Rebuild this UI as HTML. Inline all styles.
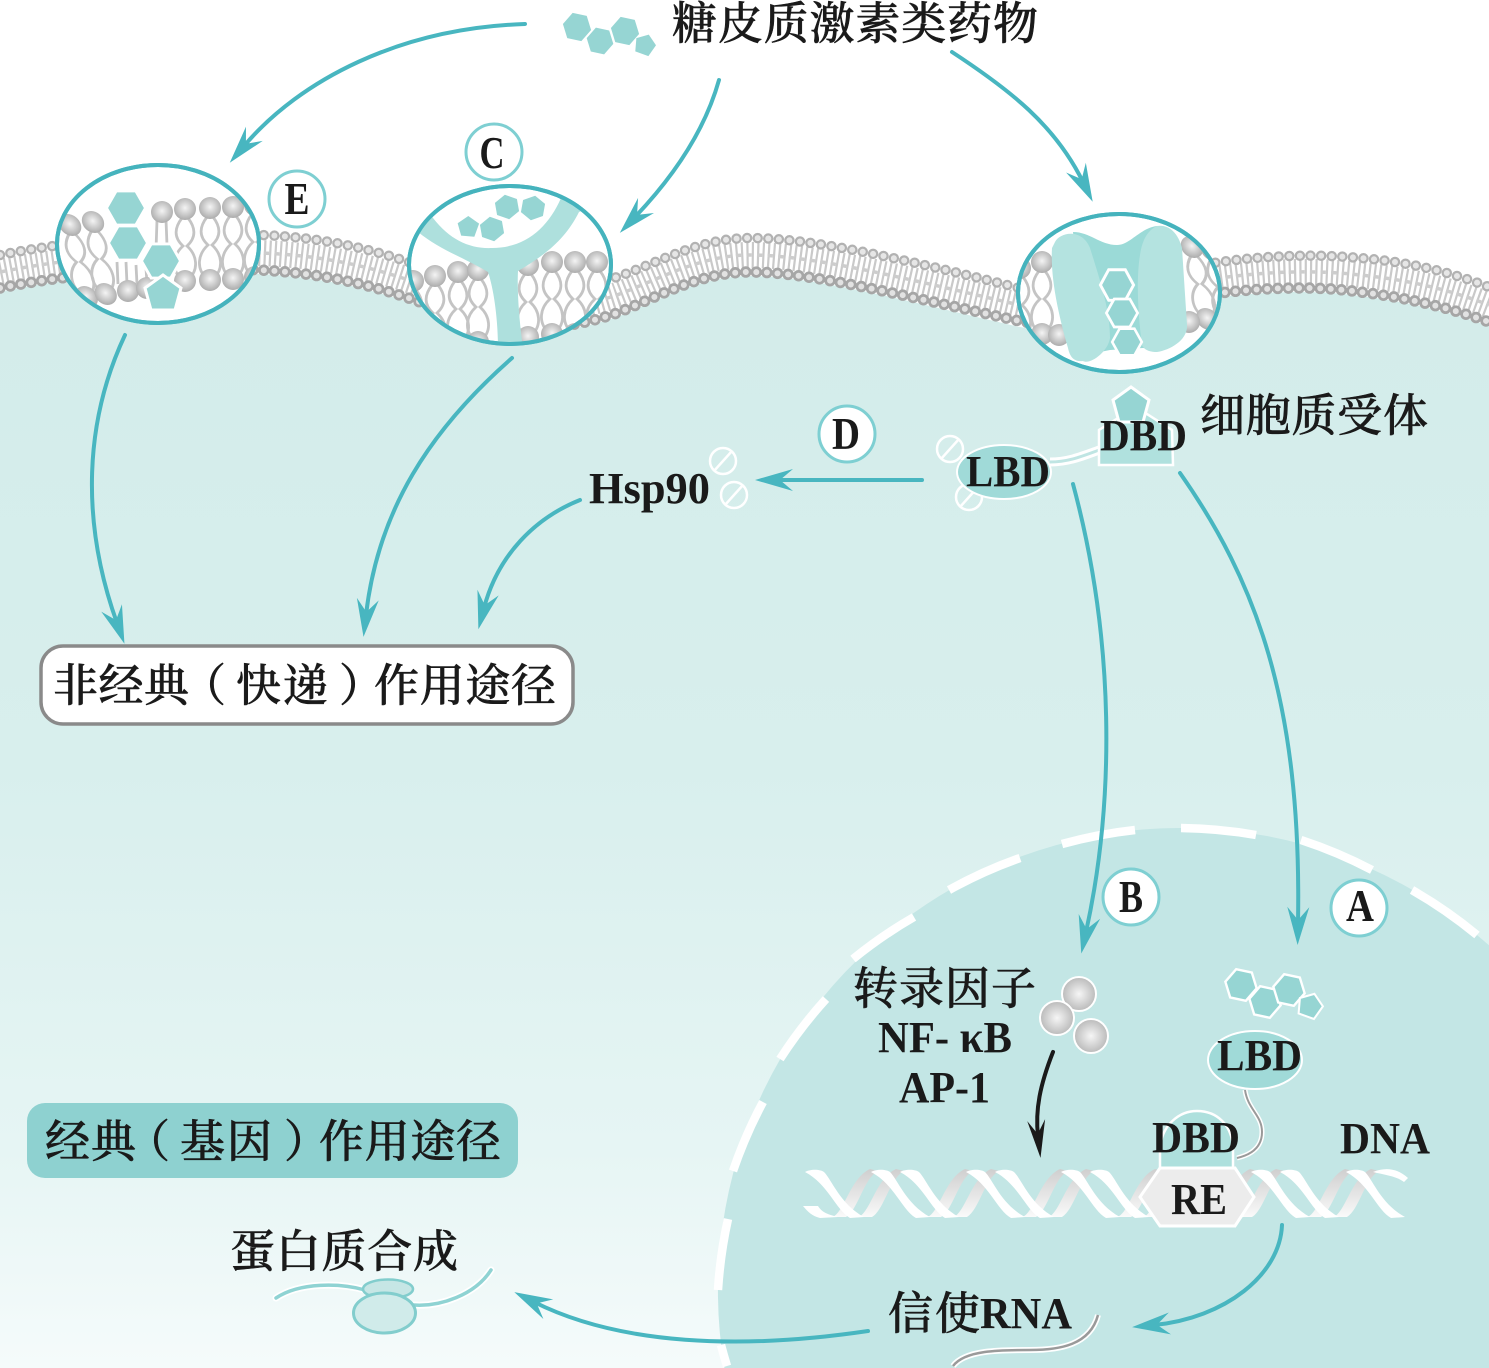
<!DOCTYPE html>
<html lang="zh"><head><meta charset="utf-8"><title>糖皮质激素类药物作用途径</title>
<style>
html,body{margin:0;padding:0;background:#fff;width:1489px;height:1368px;overflow:hidden}
svg{display:block}
.c{font-family:"Liberation Serif","Noto Serif CJK SC",serif;font-weight:500;fill:#1a1a1a;stroke:#1a1a1a;stroke-width:.55}
.l{font-family:"Liberation Serif","Noto Serif CJK SC",serif;font-weight:700;fill:#1a1a1a}
.a{fill:none;stroke:#48b6c0;stroke-width:4;stroke-linecap:round}
.big{fill:#fff;stroke:#45b3bd;stroke-width:4}
.lab{fill:#fff;stroke:#7ecfd2;stroke-width:3}
.t{fill:none;stroke:#c4c4c4;stroke-width:2.8}
</style></head><body>
<svg width="1489" height="1368" viewBox="0 0 1489 1368" xmlns="http://www.w3.org/2000/svg">
<defs>
<linearGradient id="cell" x1="0" y1="0" x2="0" y2="1"><stop offset="0" stop-color="#d3ecea"/><stop offset=".45" stop-color="#d8efed"/><stop offset=".8" stop-color="#e6f5f4"/><stop offset="1" stop-color="#f5fbfb"/></linearGradient>
<linearGradient id="bk" x1="0" y1="0" x2="0" y2="1"><stop offset="0" stop-color="#cfcfcf"/><stop offset=".55" stop-color="#e6e6e6"/><stop offset="1" stop-color="#fafafa"/></linearGradient>
<radialGradient id="ball" cx=".5" cy=".45" r=".6"><stop offset="0" stop-color="#f4f4f4"/><stop offset="1" stop-color="#a5a5a5"/></radialGradient>
<radialGradient id="ball2" cx=".5" cy=".5" r=".55"><stop offset="0" stop-color="#f6f6f6"/><stop offset="1" stop-color="#b4b4b4"/></radialGradient>
<marker id="ah" markerUnits="userSpaceOnUse" markerWidth="48" markerHeight="30" refX="16" refY="15" orient="auto" overflow="visible"><polygon points="0,4 38,15 0,26 13,15" fill="#48b6c0"/></marker>
<marker id="bh" markerUnits="userSpaceOnUse" markerWidth="48" markerHeight="30" refX="16" refY="15" orient="auto" overflow="visible"><polygon points="0,6 38,15 0,24 14,15" fill="#1a1a1a"/></marker>
<polygon id="hex" points="-20,0 -10,-18 10,-18 20,0 10,18 -10,18"/>
<polygon id="pent" points="0,-19 18,-6 12,16 -12,16 -18,-6"/>
<g id="lip"><path class="t" d="M-3,9 C-10,18 -12,28 -2,37 C-12,46 -14,60 -4,70 M3,9 C10,18 12,28 2,37 C12,46 14,60 4,70"/><circle r="11" fill="url(#ball)"/><circle cy="72" r="11" fill="url(#ball)"/></g>
<clipPath id="ce"><ellipse cx="158" cy="244" rx="100" ry="78"/></clipPath>
<clipPath id="cc"><ellipse cx="510" cy="265" rx="100" ry="78"/></clipPath>
<clipPath id="cr"><ellipse cx="1119" cy="293" rx="100" ry="78"/></clipPath>
<clipPath id="dna"><rect x="803" y="1150" width="605" height="90"/></clipPath>
<g id="back"><path d="M-48,47 C-36,44 -30,8 -10,-1 L-2,1 C-16,8 -22,40 -34,47 Z" fill="url(#bk)"/><path d="M-22,47 C-10,44 -4,8 16,-1 L24,1 C10,8 4,40 -8,47 Z" fill="url(#bk)"/></g>
<path id="f" d="M-9,2 C-4,-1 6,-1 10,2 C18,10 26,34 50,47 L36,48 C22,40 14,14 -9,2 Z" fill="#fff"/>
</defs>

<rect width="1489" height="1368" fill="#fff"/>
<path d="M0,292 C60,279 150,268 260,274 C320,277 370,288 420,306 C480,329 540,344 617,317 C660,300 700,276 750,276 C810,276 900,299 1015,326 C1090,341 1150,306 1220,297 C1270,291 1320,290 1360,296 C1410,302 1450,312 1489,326 L1489,1368 L0,1368 Z" fill="url(#cell)"/>

<!-- membrane -->
<g fill="none">
<path d="M0,272 C60,260 150,249 260,253 C320,255 370,266 420,284 C480,307 540,321 617,295 C660,279 700,255 750,255 C810,255 900,277 1015,304 C1090,322 1150,287 1220,278 C1270,271 1320,270 1360,275 C1410,280 1450,290 1489,305" stroke="#c9c9c9" stroke-width="26" stroke-dasharray="2.2 3.1"/>
<path d="M0,272 C60,260 150,249 260,253 C320,255 370,266 420,284 C480,307 540,321 617,295 C660,279 700,255 750,255 C810,255 900,277 1015,304 C1090,322 1150,287 1220,278 C1270,271 1320,270 1360,275 C1410,280 1450,290 1489,305" stroke="#cdcdcd" stroke-width="3.5" stroke-dasharray="5.3 5.3"/>
<g stroke-linecap="round" stroke-dasharray="0 10.6">
<path d="M0,255 C60,243 150,232 260,235 C320,237 370,248 420,266 C480,288 540,302 617,277 C660,262 700,238 750,238 C810,238 900,258 1015,287 C1090,306 1150,272 1220,262 C1270,255 1320,254 1360,258 C1410,262 1450,272 1489,287" stroke="#b2b2b2" stroke-width="10.5"/>
<path d="M0,255 C60,243 150,232 260,235 C320,237 370,248 420,266 C480,288 540,302 617,277 C660,262 700,238 750,238 C810,238 900,258 1015,287 C1090,306 1150,272 1220,262 C1270,255 1320,254 1360,258 C1410,262 1450,272 1489,287" stroke="#e6e6e6" stroke-width="6"/>
<path d="M0,288 C60,276 150,265 260,270 C320,273 370,284 420,302 C480,325 540,340 617,313 C660,296 700,272 750,272 C810,272 900,295 1015,320 C1090,337 1150,302 1220,293 C1270,287 1320,286 1360,292 C1410,298 1450,308 1489,322" stroke="#a6a6a6" stroke-width="11.500"/>
<path d="M0,288 C60,276 150,265 260,270 C320,273 370,284 420,302 C480,325 540,340 617,313 C660,296 700,272 750,272 C810,272 900,295 1015,320 C1090,337 1150,302 1220,293 C1270,287 1320,286 1360,292 C1410,298 1450,308 1489,322" stroke="#e2e2e2" stroke-width="6"/>
</g></g>

<!-- nucleus -->
<path d="M724.4,1368 A463,463 0 0 1 1489,945.3 L1489,1368 Z" fill="#c3e6e5"/>
<g fill="none" stroke="#fff" stroke-width="8.5">
<path d="M727,1366 A463,463 0 0 1 721,1345"/>
<path d="M718,1290 A463,463 0 0 1 728,1219"/>
<path d="M733,1171 A463,463 0 0 1 763,1102"/>
<path d="M780,1059 A463,463 0 0 1 826,999"/>
<path d="M853,959 A463,463 0 0 1 914,917"/>
<path d="M949,890 A463,463 0 0 1 1020,858"/>
<path d="M1062,844 A463,463 0 0 1 1135,830"/>
<path d="M1181,828 A463,463 0 0 1 1256,835"/>
<path d="M1301,840 A463,463 0 0 1 1372,870"/>
<path d="M1412,890 A463,463 0 0 1 1477,935"/>
</g>

<!-- E circle -->
<ellipse class="big" cx="158" cy="244" rx="101" ry="79"/>
<g clip-path="url(#ce)">
<use href="#lip" transform="translate(70 225) skewX(13)"/><use href="#lip" transform="translate(93 222) skewX(10)"/><use href="#lip" x="185" y="209"/><use href="#lip" x="210" y="208"/><use href="#lip" x="233" y="207"/>
<use href="#lip" x="255" y="205"/>
<path class="t" d="M157,220 L156,250 M166,220 L167,245 M117,262 L118,284 M126,262 L127,284 M136,265 L137,284 M146,268 L147,284"/>
<circle cx="162" cy="212" r="11" fill="url(#ball)"/>
<circle cx="128" cy="291" r="11" fill="url(#ball)"/><circle cx="147" cy="288" r="11" fill="url(#ball)"/>
<g fill="#96d5d3" stroke="#fff" stroke-width="3"><use href="#hex" transform="translate(126 208) scale(.98 .95)"/><use href="#hex" transform="translate(128 243) scale(.98 .95)"/><use href="#hex" transform="translate(161 261) scale(.98 .95)"/><use href="#pent" transform="translate(163 294)"/></g>
</g>
<ellipse cx="158" cy="244" rx="101" ry="79" fill="none" stroke="#45b3bd" stroke-width="4"/>

<!-- C circle -->
<ellipse class="big" cx="510" cy="265" rx="101" ry="79"/>
<g clip-path="url(#cc)">
<use href="#lip" x="413" y="281"/><use href="#lip" x="435" y="276"/><use href="#lip" x="458" y="272"/><use href="#lip" x="478" y="270"/><use href="#lip" x="528" y="265"/><use href="#lip" x="552" y="262"/><use href="#lip" x="575" y="262"/><use href="#lip" x="597" y="262"/>
<path d="M425,205 L433,218 C450,240 470,249 492,248 C525,248 548,228 561,198 L575,185 L595,205 L579,212 C565,240 545,255 518,271 C517,290 519,320 523,348 L498,348 C498,320 494,290 488,272 C465,258 440,250 418,232 L405,225 Z" fill="#aee0dd"/>
<g fill="#96d5d3"><use href="#pent" transform="translate(468 227) rotate(-70) scale(.58)"/><use href="#hex" transform="translate(492 229) rotate(80) scale(.62)"/><use href="#hex" transform="translate(507 207) rotate(80) scale(.62)"/><use href="#hex" transform="translate(533 208) rotate(100) scale(.62)"/></g>
</g>
<ellipse cx="510" cy="265" rx="101" ry="79" fill="none" stroke="#45b3bd" stroke-width="4"/>

<!-- channel circle -->
<ellipse class="big" cx="1119" cy="293" rx="101" ry="79"/>
<g clip-path="url(#cr)">
<use href="#lip" x="1020" y="268"/><use href="#lip" x="1042" y="262"/>
<circle cx="1059" cy="335" r="11" fill="url(#ball)"/>
<use href="#lip" transform="translate(1192 247) skewX(12)"/>
<circle cx="1189" cy="322" r="11" fill="url(#ball)"/>
<use href="#lip" transform="translate(1212 250) skewX(12)"/>
<path d="M1073,232 C1090,232 1100,245 1117,245 C1130,245 1140,228 1157,226 L1165,350 L1143,348 L1110,350 L1085,355 Z" fill="#9bdad7"/>
<path d="M1055,242 C1060,232 1082,228 1090,248 C1100,280 1110,310 1110,338 C1108,352 1090,365 1083,361 C1075,362 1070,358 1068,348 C1060,320 1050,280 1052,248 Z" fill="#b4e3e0"/>
<path d="M1157,226 C1168,224 1178,232 1182,248 L1187,325 C1188,340 1170,350 1157,352 C1150,352 1144,350 1142,345 C1138,315 1136,280 1140,255 C1142,240 1148,230 1157,226 Z" fill="#b4e3e0"/>
<g fill="#96d5d3" stroke="#fff" stroke-width="3.5"><use href="#hex" transform="translate(1117 285) scale(.83 .85)"/><use href="#hex" transform="translate(1122 313) scale(.78)"/><use href="#hex" transform="translate(1127 342) scale(.74)"/></g>
</g>
<ellipse cx="1119" cy="293" rx="101" ry="79" fill="none" stroke="#45b3bd" stroke-width="4"/>

<!-- top hexagons -->
<g fill="#96d5d3"><use href="#hex" transform="translate(577 27) rotate(12) scale(.72)"/><use href="#hex" transform="translate(600 41) rotate(12) scale(.68)"/><use href="#hex" transform="translate(625 31) rotate(12) scale(.72)"/><use href="#pent" transform="translate(645 45) rotate(20) scale(.58)"/></g>

<!-- arrows -->
<path class="a" marker-end="url(#ah)" d="M525,24 C400,28 300,80 244,146"/>
<path class="a" marker-end="url(#ah)" d="M719,80 C705,130 675,175 635,217"/>
<path class="a" marker-end="url(#ah)" d="M952,52 C1010,90 1055,125 1083,182"/>
<path class="a" marker-end="url(#ah)" d="M125,335 C85,420 80,520 117,623"/>
<path class="a" marker-end="url(#ah)" d="M512,358 C430,430 378,510 366,615"/>
<path class="a" marker-end="url(#ah)" d="M922,480 L777,480"/>
<path class="a" marker-end="url(#ah)" d="M580,500 C535,518 498,555 484,608"/>
<path class="a" marker-end="url(#ah)" d="M1073,484 C1115,640 1115,800 1086,932"/>
<path class="a" marker-end="url(#ah)" d="M1180,473 C1255,580 1302,700 1298,923"/>
<path fill="none" stroke="#1a1a1a" stroke-width="4" stroke-linecap="round" marker-end="url(#bh)" d="M1053,1052 C1040,1085 1035,1110 1038,1136"/>
<path class="a" marker-end="url(#ah)" d="M1282,1225 C1280,1275 1225,1318 1154,1325"/>
<path class="a" marker-end="url(#ah)" d="M868,1331 C740,1350 620,1345 534,1302"/>

<!-- label circles -->
<circle class="lab" cx="297" cy="199" r="28"/><circle class="lab" cx="494" cy="152" r="28"/><circle class="lab" cx="847" cy="434" r="28"/><circle class="lab" cx="1131" cy="897" r="28"/><circle class="lab" cx="1359" cy="908" r="28"/>
<g class="l" font-size="46" text-anchor="middle"><text x="297" y="214" textLength="25" lengthAdjust="spacingAndGlyphs">E</text><text x="492" y="168" textLength="25" lengthAdjust="spacingAndGlyphs">C</text><text x="846" y="449" textLength="28" lengthAdjust="spacingAndGlyphs">D</text><text x="1131" y="912" textLength="24" lengthAdjust="spacingAndGlyphs">B</text><text x="1360" y="921" textLength="28" lengthAdjust="spacingAndGlyphs">A</text></g>

<!-- cytoplasmic receptor -->
<path d="M1050,462 C1070,462 1085,455 1102,449" fill="none" stroke="#fff" stroke-width="9"/>
<path d="M1050,462 C1070,462 1085,455 1102,449" fill="none" stroke="#bfe5e3" stroke-width="3"/>
<g fill="none" stroke="#fff" stroke-width="2.5"><circle cx="950" cy="449" r="13"/><path d="M941,459 L959,439"/><circle cx="969" cy="497" r="13"/><path d="M960,507 L978,487"/><circle cx="723" cy="461" r="13"/><path d="M714,471 L732,451"/><circle cx="734" cy="495" r="13"/><path d="M725,505 L743,485"/></g>
<ellipse cx="1004" cy="472" rx="47" ry="27" fill="#a0dad8" stroke="#fff" stroke-width="2"/>
<path d="M1099,465 L1099,430 L1136,407 L1172,430 L1173,465 Z" fill="#b0e1de" stroke="#fff" stroke-width="2.5"/>
<use href="#pent" transform="translate(1131 406)" fill="#96d5d3" stroke="#fff" stroke-width="3"/>

<!-- DNA -->
<g clip-path="url(#dna)">
<g transform="translate(0 1170)">
<use href="#back" x="880"/><use href="#back" x="975"/><use href="#back" x="1070"/><use href="#back" x="1165"/><use href="#back" x="1260"/><use href="#back" x="1355"/>
<use href="#f" x="814"/><use href="#f" x="880"/><use href="#f" x="909"/><use href="#f" x="975"/><use href="#f" x="1004"/><use href="#f" x="1070"/><use href="#f" x="1099"/><use href="#f" x="1165"/><use href="#f" x="1194"/><use href="#f" x="1260"/><use href="#f" x="1289"/><use href="#f" x="1355"/>
</g>
<path d="M803,1206 L818,1206 C822,1212 826,1214 838,1217 L820,1218 C812,1216 808,1212 803,1206 Z" fill="#fff"/>
<path d="M1373,1172 C1385,1167 1397,1168 1408,1178 L1404,1182 C1396,1176 1385,1175 1373,1172 Z" fill="#fff"/>
</g>
<path d="M1160,1168 L1160,1148 C1162,1125 1179,1111 1197,1111 C1217,1111 1232,1125 1233,1148 L1233,1168 Z" fill="#aee0dd" stroke="#fff" stroke-width="2.5"/>
<polygon points="1140,1197 1160,1168 1235,1168 1254,1197 1235,1226 1160,1226" fill="#ececec" stroke="#fff" stroke-width="3"/>

<!-- nuclear receptor -->
<path d="M1245,1090 C1248,1110 1262,1115 1262,1132 C1262,1148 1250,1155 1237,1158" fill="none" stroke="#fff" stroke-width="5"/>
<path d="M1245,1090 C1248,1110 1262,1115 1262,1132 C1262,1148 1250,1155 1237,1158" fill="none" stroke="#9a9a9a" stroke-width="2"/>
<ellipse cx="1255" cy="1060" rx="47" ry="29" fill="#a0dad8" stroke="#fff" stroke-width="2"/>
<g fill="#96d5d3" stroke="#fff" stroke-width="3"><use href="#hex" transform="translate(1241 985) rotate(12) scale(.8)"/><use href="#hex" transform="translate(1265 1002) rotate(12) scale(.8)"/><use href="#hex" transform="translate(1289 990) rotate(12) scale(.8)"/><use href="#pent" transform="translate(1310 1006) rotate(20) scale(.68)"/></g>
<g fill="url(#ball2)" stroke="#fff" stroke-width="2"><circle cx="1079" cy="994" r="17"/><circle cx="1057" cy="1018" r="17"/><circle cx="1091" cy="1036" r="17"/></g>

<!-- mRNA + ribosome -->
<path d="M1098,1315 C1090,1345 1060,1350 1030,1350 C1000,1350 965,1350 953,1366" fill="none" stroke="#fff" stroke-width="6"/>
<path d="M1098,1315 C1090,1345 1060,1350 1030,1350 C1000,1350 965,1350 953,1366" fill="none" stroke="#9a9a9a" stroke-width="2.5"/>
<g fill="none" stroke-linecap="round"><path d="M276,1298 C300,1282 340,1283 365,1290 M413,1305 C440,1307 475,1295 491,1270" stroke="#fff" stroke-width="7"/><path d="M276,1298 C300,1282 340,1283 365,1290 M413,1305 C440,1307 475,1295 491,1270" stroke="#8fd3d3" stroke-width="3.5"/></g>
<ellipse cx="388" cy="1289" rx="25" ry="9.5" fill="#c6e6e5" stroke="#82cdcd" stroke-width="2.5"/>
<ellipse cx="384.500" cy="1313" rx="31" ry="20" fill="#d0ebea" stroke="#82cdcd" stroke-width="3"/>

<!-- boxes -->
<rect x="41" y="646" width="532" height="78" rx="22" fill="#fff" stroke="#8a8a8a" stroke-width="3.500"/>
<rect x="27" y="1103" width="491" height="75" rx="18" fill="#8ed1d0"/>

<!-- text -->
<g class="c" font-size="45">
<text x="672" y="39" textLength="366">糖皮质激素类药物</text>
<text x="1200" y="431" textLength="228">细胞质受体</text>
<text x="53" y="701" textLength="136">非经典</text><text x="181" y="701">（</text><text x="236" y="701" textLength="92">快递</text><text x="339" y="701">）</text><text x="374" y="701" textLength="182">作用途径</text>
<text x="45" y="1157" textLength="91">经典</text><text x="125" y="1157">（</text><text x="180" y="1157" textLength="92">基因</text><text x="284" y="1157">）</text><text x="319" y="1157" textLength="182">作用途径</text>
<text x="853" y="1004" textLength="183">转录因子</text>
<text x="888" y="1329" textLength="92">信使</text>
<text x="230" y="1267" textLength="228">蛋白质合成</text>
</g>
<g class="l" font-size="44">
<text x="589" y="503" textLength="121" lengthAdjust="spacingAndGlyphs">Hsp90</text>
<text x="966" y="486" textLength="84" lengthAdjust="spacingAndGlyphs">LBD</text>
<text x="1100" y="450" textLength="87" lengthAdjust="spacingAndGlyphs">DBD</text>
<text x="1217" y="1070" textLength="85" lengthAdjust="spacingAndGlyphs">LBD</text>
<text x="1152" y="1152" textLength="88" lengthAdjust="spacingAndGlyphs">DBD</text>
<text x="1171" y="1214" textLength="56" lengthAdjust="spacingAndGlyphs">RE</text>
<text x="1340" y="1153" textLength="90" lengthAdjust="spacingAndGlyphs">DNA</text>
<text x="878" y="1052" textLength="134" lengthAdjust="spacingAndGlyphs">NF- κB</text>
<text x="899" y="1102" textLength="91" lengthAdjust="spacingAndGlyphs">AP-1</text>
<text x="980" y="1328" textLength="92" lengthAdjust="spacingAndGlyphs">RNA</text>
</g>
</svg>
</body></html>
